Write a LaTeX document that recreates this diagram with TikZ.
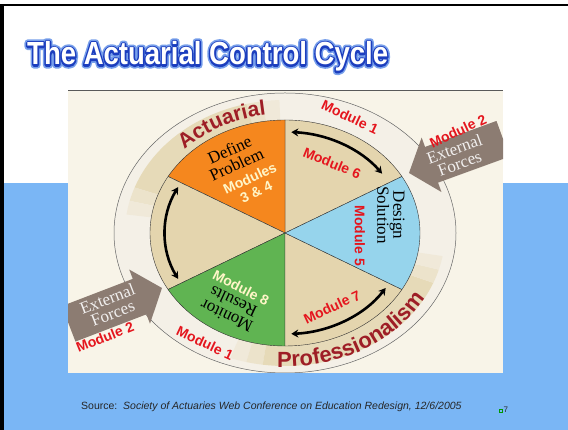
\documentclass[tikz,border=0pt]{standalone}
\usepackage{fontspec}
\setmainfont{Liberation Serif}
\setsansfont{Liberation Sans}
\usetikzlibrary{arrows.meta}
\usetikzlibrary{decorations.text}
\definecolor{slideblue}{RGB}{122,182,245}
\definecolor{cream}{RGB}{248,244,232}
\definecolor{ringlight}{RGB}{244,240,231}
\definecolor{ringtan}{RGB}{230,218,184}
\definecolor{piebeige}{RGB}{228,213,174}
\definecolor{pieorange}{RGB}{245,135,30}
\definecolor{pieblue}{RGB}{150,212,236}
\definecolor{piegreen}{RGB}{96,180,82}
\definecolor{modred}{RGB}{228,22,30}
\definecolor{darkred}{RGB}{158,30,38}
\definecolor{pale}{RGB}{255,246,200}
\definecolor{forcegray}{RGB}{140,124,114}
\definecolor{ttlblue}{RGB}{28,62,190}
\definecolor{ttlglow}{RGB}{120,160,235}
% stroked text for the title outline
\newcommand{\strokedtext}[2]{\special{pdf:literal direct 1 Tr #1 w 1 J 1 j}#2\special{pdf:literal direct 0 Tr}}
\newcommand{\ttltext}{\scalebox{0.86}[1]{The Actuarial Control Cycle}}

\begin{document}
\begin{tikzpicture}[x=1pt, y=1pt,
  modlbl/.style={font=\sffamily\bfseries\fontsize{14}{14}\selectfont, text=modred, inner sep=0pt},
  palelbl/.style={font=\sffamily\bfseries\fontsize{14}{15}\selectfont, text=pale, align=center, inner sep=0pt},
  steplbl/.style={font=\fontsize{17}{16}\selectfont, align=center, inner sep=0pt},
  forcelbl/.style={font=\fontsize{17}{15}\selectfont, text=white!88!forcegray, align=center, inner sep=0pt},
  cycarrow/.style={line width=2.6pt, {Stealth[length=7pt,width=8pt]}-{Stealth[length=7pt,width=8pt]}},
  ttl/.style={font=\sffamily\bfseries\fontsize{32}{32}\selectfont, inner sep=0pt, anchor=base west},
]
  % slide
  \useasboundingbox (0,0) rectangle (568,430);
  \fill[white] (0,0) rectangle (568,430);
  \fill[slideblue] (0,0) rectangle (568,247);
  \fill[black] (0,0) rectangle (4,426);
  \fill[black] (0,423.5) rectangle (568,426);

  % picture
  \fill[cream] (68,57) rectangle (503,340);
  \draw[black!65, line width=0.8pt] (68,340) -- (503,340);
  \coordinate (C) at (285,197);

  \begin{scope}
    \clip (68,57) rectangle (503,340);
    \filldraw[fill=ringlight, draw=black!60, line width=0.5pt] (C) ellipse[x radius=171, y radius=140];
    \foreach \a/\b/\p in {92/98/30, 98/104/60, 104/160/100, 160/166/60, 166/172/30,
                          250/256/30, 256/262/60, 262/338/100, 338/344/60, 344/350/30}
      \fill[ringtan!\p!ringlight] (C) -- ++(\a:160 and 133)
        arc[start angle=\a, end angle=\b, x radius=160, y radius=133] -- cycle;

    \foreach \s/\col in {30/piebeige, 90/pieorange, 150/piebeige, 210/piegreen, 270/piebeige, 330/pieblue}
      \filldraw[fill=\col, draw=black!80, line width=0.4pt] (C) -- ++(\s:135 and 113)
        arc[start angle=\s, end angle=\s+60, x radius=135, y radius=113] -- cycle;

    \foreach \a/\b in {36/87, 153/207, 273/327}
      \draw[cycarrow] (C) ++(\a:120 and 101) arc[start angle=\a, end angle=\b, x radius=120, y radius=101];

    % external forces
    \fill[forcegray, shift={(409,257)}, rotate=200] (0,0) -- (-24,29) -- (-24,19) -- (-100,19)
      -- (-100,-19) -- (-24,-19) -- (-24,-29) -- cycle;
    \fill[forcegray, shift={(162,142)}, rotate=21] (0,0) -- (-24,29) -- (-24,19) -- (-100,19)
      -- (-100,-19) -- (-24,-19) -- (-24,-29) -- cycle;

    \path[decorate, decoration={text along path, text align=center,
      text={|\sffamily\bfseries\fontsize{21}{21}\selectfont\color{darkred}|Actuarial}}]
      (C) ++(162:141 and 119) arc[start angle=162, end angle=74, x radius=141, y radius=119];
    \path[decorate, decoration={text along path, text align=center,
      text={|\sffamily\bfseries\fontsize{22}{22}\selectfont\color{darkred}|Professionalism}}]
      (C) ++(255:160 and 134) arc[start angle=255, end angle=345, x radius=160, y radius=134];
  \end{scope}

  \node[steplbl, rotate=25] (def) at (233,273) {Define\\Problem};
  \node[palelbl, rotate=25] (mod34) at (253,245) {Modules\\3 \& 4};
  \node[modlbl, rotate=-22] (mod6) at (332,267) {Module 6};
  \node[steplbl, rotate=-90] (des) at (391,215) {Design\\Solution};
  \node[modlbl, rotate=-90] (mod5) at (360,194) {Module 5};
  \node[modlbl, rotate=25] (mod7) at (332,123) {Module 7};
  \node[palelbl, rotate=-27] (mod8) at (241,142) {Module 8};
  \node[steplbl, rotate=155] (mon) at (230,121) {Monitor\\Results};

  \node[modlbl, rotate=-25] (mod1a) at (350,313) {Module 1};
  \node[modlbl, rotate=-25] (mod1b) at (205,87) {Module 1};
  \node[modlbl, rotate=25] (mod2a) at (458,299) {Module 2};
  \node[modlbl, rotate=22] (mod2b) at (105,93) {Module 2};
  \node[forcelbl, rotate=20] (extA) at (457,274) {External\\Forces};
  \node[forcelbl, rotate=21] (extB) at (110,124) {External\\Forces};

  % title
  \node[ttl, text=ttlglow] (ttlglow) at (27,365) {\strokedtext{7}{\ttltext}};
  \node[ttl, text=ttlblue] (ttlline) at (27,365) {\strokedtext{3.6}{\ttltext}};
  \node[ttl, text=white] (ttl) at (27,365) {\ttltext};

  \node[font=\sffamily\fontsize{10.5}{12}\selectfont, text=black!85, anchor=base west, inner sep=0pt] (src) at (81,20)
    {Source:\ \ \itshape Society of Actuaries Web Conference on Education Redesign, 12/6/2005};
  \draw[green!60!black, line width=0.3pt] (499,18) rectangle (502,21);
  \node[font=\sffamily\fontsize{8}{8}\selectfont, text=black!85, anchor=base west, inner sep=0pt] (pg) at (503.5,17) {7};
\end{tikzpicture}
\end{document}
